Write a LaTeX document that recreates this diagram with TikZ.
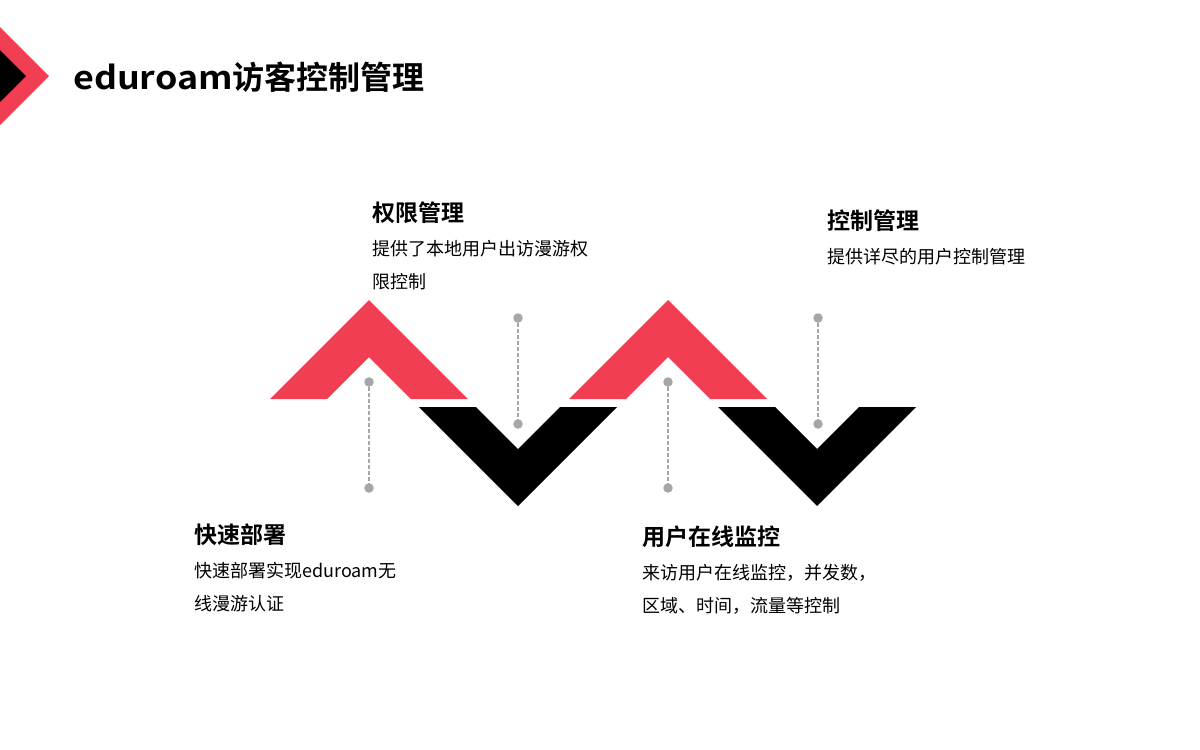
\documentclass[tikz,border=0pt]{standalone}
\usepackage{fontspec}
\setmainfont{Noto Sans CJK SC}[BoldFont={Noto Sans CJK SC Bold}]
\usepackage{tikz}
\usetikzlibrary{calc, positioning}
\usepackage{xcolor}
\definecolor{zigRed}{RGB}{242, 62, 82}
\definecolor{zigBlack}{RGB}{0, 0, 0}
\definecolor{pinGray}{RGB}{166, 166, 166}

\begin{document}
\begin{tikzpicture}[x=1pt, y=-1pt,
    head/.style={anchor=base west, inner sep=0pt, font=\fontsize{23}{23}\selectfont\bfseries},
    body/.style={anchor=base west, inner sep=0pt, align=left, font=\fontsize{18}{33}\selectfont},
    pin/.style={circle, fill=pinGray, inner sep=0pt, minimum size=9.5pt},
    pinline/.style={pinGray, line width=1.4pt, dash pattern=on 4pt off 2pt}]
  \useasboundingbox (0,0) rectangle (1200,750);
  % corner mark
  \fill[zigRed] (0,27) -- (49,76) -- (0,125) -- cycle;
  \fill[zigBlack] (0,50) -- (26,76) -- (0,102) -- cycle;
  \node[anchor=base west, inner sep=0pt, font=\fontsize{32}{32}\selectfont\bfseries] (title) at (73,89) {{\addfontfeature{FakeStretch=1.12}eduroam}访客控制管理};
  % zigzag
  \foreach \x in {0,299} {
    \fill[zigRed] (369+\x,300) -- (468+\x,399) -- (411+\x,399) -- (369+\x,357) -- (327+\x,399) -- (270+\x,399) -- cycle;
    \fill[zigBlack] (419+\x,407) -- (476+\x,407) -- (518+\x,449) -- (560+\x,407) -- (617+\x,407) -- (518+\x,506) -- cycle;
  }
  % pins
  \node[pin] (p1a) at (369,382) {};
  \node[pin] (p1b) at (369,488) {};
  \node[pin] (p2a) at (518,318) {};
  \node[pin] (p2b) at (518,424) {};
  \node[pin] (p3a) at (668,382) {};
  \node[pin] (p3b) at (668,488) {};
  \node[pin] (p4a) at (818,318) {};
  \node[pin] (p4b) at (818,424) {};
  \draw[pinline] (p1a) -- (p1b);
  \draw[pinline] (p2a) -- (p2b);
  \draw[pinline] (p3a) -- (p3b);
  \draw[pinline] (p4a) -- (p4b);
  % labels (two-line bodies sit on their last baseline)
  \node[head] (deployH) at (194,543) {快速部署};
  \node[body] (deployB) at (194,610) {快速部署实现eduroam无\\线漫游认证};
  \node[head] (rightsH) at (372,221) {权限管理};
  \node[body] (rightsB) at (372,288) {提供了本地用户出访漫游权\\限控制};
  \node[head] (monitorH) at (642,545) {用户在线监控};
  \node[body] (monitorB) at (642,612) {来访用户在线监控，并发数，\\区域、时间，流量等控制};
  \node[head] (controlH) at (827,229) {控制管理};
  \node[body] (controlB) at (827,263) {提供详尽的用户控制管理};
\end{tikzpicture}
\end{document}
